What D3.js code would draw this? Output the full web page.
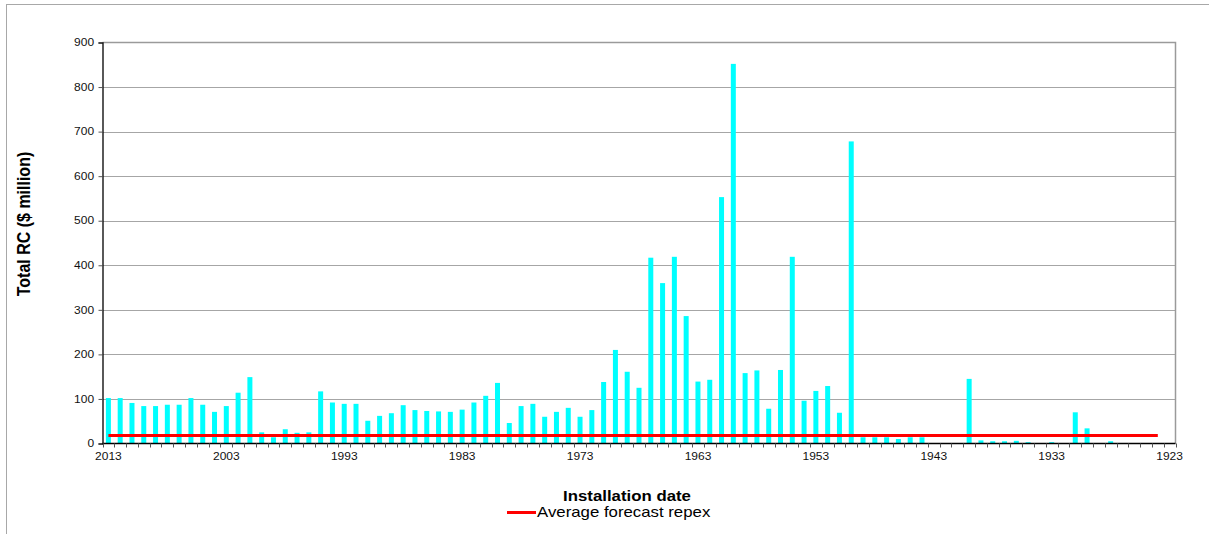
<!DOCTYPE html>
<html>
<head>
<meta charset="utf-8">
<script src="https://cdn.jsdelivr.net/npm/d3@7"></script>
<style>
  html, body { margin: 0; padding: 0; background: #fff; }
  svg { display: block; font-family: "Liberation Sans", Arial, sans-serif; }
</style>
</head>
<body>
<svg id="chart" width="1209" height="534"></svg>
<script>
// ---- Data ----
const years = [
  "2013","2012","2011","2010","2009","2008","2007","2006","2005","2004",
  "2003","2002","2001","2000","1999","1998","1997","1996","1995","1994",
  "1993","1992","1991","1990","1989","1988","1987","1986","1985","1984",
  "1983","1982","1981","1980","1979","1978","1977","1976","1975","1974",
  "1973","1972","1971","1970","1969","1968","1967","1966","1965","1964",
  "1963","1962","1961","1960","1959","1958","1957","1956","1955","1954",
  "1953","1952","1951","1950","1949","1948","1947","1946","1945","1944",
  "1943","1942","1941","1940","1939","1938","1937","1936","1935","1934",
  "1933","1932","1931","1930","1929","1928","1927","1926","1925","1924",
  "1923"
];
const totalRC = [
  102,102,91,84,84,87,87,102,87,71,
  84,114,149,25,14,32,24,25,117,92,
  89,89,51,62,68,86,75,73,72,71,
  76,92,107,136,46,84,89,60,71,80,
  60,75,138,210,161,125,417,360,419,286,
  139,143,553,852,158,164,78,165,419,96,
  118,129,69,678,14,14,14,10,14,14,
  1,1,1,145,7,5,5,6,3,1,
  3,1,70,34,0,5,0,0,0,0,
  1
];
const averageRepex = [
  18,18,18,18,18,18,18,18,18,18,
  18,18,18,18,18,18,18,18,18,18,
  18,18,18,18,18,18,18,18,18,18,
  18,18,18,18,18,18,18,18,18,18,
  18,18,18,18,18,18,18,18,18,18,
  18,18,18,18,18,18,18,18,18,18,
  18,18,18,18,18,18,18,18,18,18,
  18,18,18,18,18,18,18,18,18,18,
  18,18,18,18,18,18,18,18,18,18
];
const yTicks = [0,100,200,300,400,500,600,700,800,900];
const xLabelYears = ["2013","2003","1993","1983","1973","1963","1953","1943","1933","1923"];
const yTitle = "Total RC ($ million)";
const xTitle = "Installation date";
const legendLabel = "Average forecast repex";

// ---- Layout ----
const svg = d3.select("#chart");
const plot = { left: 102.5, right: 1175.5, top: 42.5, bottom: 443.5 };
const SX = 1.2; // horizontal text stretch seen in the reference

// outer chart border
svg.append("rect")
  .attr("x", 6.5).attr("y", 4.5).attr("width", 1220).attr("height", 560)
  .attr("fill", "none").attr("stroke", "#a8a8a8").attr("stroke-width", 1);

const x = d3.scaleBand().domain(years).range([plot.left, plot.right]).paddingInner(0).paddingOuter(0);
const y = d3.scaleLinear().domain([0, 900]).range([plot.bottom, plot.top]);

// gridlines
svg.append("g").selectAll("line")
  .data(yTicks.filter(d => d > 0 && d < 900))
  .join("line")
  .attr("x1", plot.left).attr("x2", plot.right)
  .attr("y1", d => Math.round(y(d)) + 0.5).attr("y2", d => Math.round(y(d)) + 0.5)
  .attr("stroke", "#a6a6a6").attr("stroke-width", 1);

// plot border top & right
svg.append("path")
  .attr("d", `M${plot.left},${plot.top}H${plot.right}V${plot.bottom}`)
  .attr("fill", "none").attr("stroke", "#9a9a9a").attr("stroke-width", 1.5);

// bars
const barW = 5;
svg.append("g").selectAll("rect")
  .data(years.map((yr, i) => ({ yr, v: totalRC[i] })))
  .join("rect")
  .attr("x", d => x(d.yr) + x.bandwidth() / 2 - barW / 2)
  .attr("width", barW)
  .attr("y", d => y(d.v))
  .attr("height", d => y(0) - y(d.v))
  .attr("fill", "#00ffff");

// y axis
const yAxis = svg.append("g")
  .attr("transform", `translate(${plot.left},0)`)
  .call(d3.axisLeft(y).tickValues(yTicks).tickSize(4).tickPadding(3).tickFormat(d3.format("d")));
yAxis.select(".domain").attr("stroke", "#000").attr("stroke-width", 1.3);
yAxis.selectAll(".tick line").attr("stroke", "#555");
yAxis.selectAll("text")
  .attr("font-size", 10).attr("fill", "#111")
  .attr("font-family", "'Liberation Sans', Arial, sans-serif")
  .attr("transform", `scale(${SX},1)`);

// x axis: line, boundary ticks, labels at category centers
svg.append("line")
  .attr("x1", plot.left).attr("x2", plot.right)
  .attr("y1", plot.bottom).attr("y2", plot.bottom)
  .attr("stroke", "#000").attr("stroke-width", 1.3);
const boundaries = years.map(yr => x(yr)).concat([x.range()[1]]);
svg.append("g").selectAll("line")
  .data(boundaries)
  .join("line")
  .attr("x1", d => Math.round(d) + 0.5).attr("x2", d => Math.round(d) + 0.5)
  .attr("y1", plot.bottom).attr("y2", plot.bottom + 4)
  .attr("stroke", "#555").attr("stroke-width", 1);
svg.append("g").selectAll("text")
  .data(xLabelYears)
  .join("text")
  .attr("transform", d => `translate(${x(d) + x.bandwidth() / 2},${plot.bottom + 16.5}) scale(${SX},1)`)
  .attr("text-anchor", "middle")
  .attr("font-size", 10).attr("fill", "#111")
  .text(d => d);

// average forecast repex line
const line = d3.line()
  .x((d, i) => x(years[i]) + x.bandwidth() / 2)
  .y(d => y(d));
svg.append("path")
  .datum(averageRepex)
  .attr("d", line)
  .attr("fill", "none").attr("stroke", "#ff0000").attr("stroke-width", 3);

// axis titles
svg.append("text")
  .attr("transform", `translate(30,224) rotate(-90) scale(1,${SX})`)
  .attr("text-anchor", "middle")
  .attr("font-size", 16).attr("font-weight", "bold").attr("fill", "#000")
  .text(yTitle);
svg.append("text")
  .attr("transform", `translate(627,501) scale(${SX},1)`)
  .attr("text-anchor", "middle")
  .attr("font-size", 14).attr("font-weight", "bold").attr("fill", "#000")
  .text(xTitle);

// legend
svg.append("line")
  .attr("x1", 507).attr("x2", 536).attr("y1", 512.5).attr("y2", 512.5)
  .attr("stroke", "#ff0000").attr("stroke-width", 3);
svg.append("text")
  .attr("transform", `translate(537,517) scale(${SX},1)`)
  .attr("font-size", 14).attr("fill", "#000")
  .text(legendLabel);
</script>
</body>
</html>
